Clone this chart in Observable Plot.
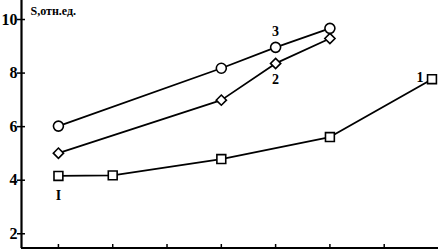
<!DOCTYPE html>
<html><head><meta charset="utf-8">
<script src="https://cdn.jsdelivr.net/npm/d3@7"></script>
<script src="https://cdn.jsdelivr.net/npm/@observablehq/plot@0.6"></script>
<style>
body{margin:0;background:#fff;}
svg{font-family:"Liberation Serif","DejaVu Serif",serif;}
</style></head>
<body><div id="chart"></div>
<script>
const yTicks = [2, 4, 6, 8, 10];
const xTicks = [1, 2, 3, 4, 5, 6, 7];
const x1 = [1, 2, 4, 6, 7.88];
const s1 = [4.16, 4.18, 4.79, 5.61, 7.77];
const x2 = [1, 4, 5, 6];
const s2 = [5.01, 6.99, 8.36, 9.29];
const x3 = [1, 4, 5, 6];
const s3 = [6.02, 8.18, 8.96, 9.67];
const yLabel = "S,отн.ед.";
const seriesLabels = [
  {x: 5, y: 9.55, text: "3"},
  {x: 5, y: 7.75, text: "2"},
  {x: 7.66, y: 7.82, text: "1"},
  {x: 1, y: 3.42, text: "I"}
];

const d1 = x1.map((x, i) => ({x, y: s1[i]}));
const d2 = x2.map((x, i) => ({x, y: s2[i]}));
const d3s = x3.map((x, i) => ({x, y: s3[i]}));
const xDom = [0.32, 8];
const yDom = [1.45, 10.71];

const chart = Plot.plot({
  width: 438, height: 250,
  marginLeft: 21, marginRight: 0, marginTop: 0, marginBottom: 2,
  x: {domain: xDom, axis: null},
  y: {domain: yDom, axis: null},
  marks: [
    Plot.axisY(yTicks, {anchor: "left", label: null, tickSize: 8, dx: 4, tickPadding: 0, fontSize: 16, fontWeight: "bold", strokeWidth: 1.5, stroke: "#000", fill: "#000"}),
    Plot.axisX(xTicks, {anchor: "bottom", label: null, tickSize: 5, dy: -4, tickFormat: () => "", strokeWidth: 1.5, stroke: "#000"}),
    Plot.ruleX([xDom[0]], {strokeWidth: 2.2, stroke: "#000"}),
    Plot.ruleY([yDom[0]], {strokeWidth: 2.2, stroke: "#000", dy: -0.5}),
    Plot.line(d1, {x: "x", y: "y", stroke: "#000", strokeWidth: 1.8}),
    Plot.line(d2, {x: "x", y: "y", stroke: "#000", strokeWidth: 1.8}),
    Plot.line(d3s, {x: "x", y: "y", stroke: "#000", strokeWidth: 1.8}),
    Plot.dot(d1, {x: "x", y: "y", symbol: "square", r: 5, fill: "#fff", stroke: "#000", strokeWidth: 1.6}),
    Plot.dot(d2, {x: "x", y: "y", symbol: "diamond2", r: 4.6, fill: "#fff", stroke: "#000", strokeWidth: 1.6}),
    Plot.dot(d3s, {x: "x", y: "y", symbol: "circle", r: 5, fill: "#fff", stroke: "#000", strokeWidth: 1.6}),
    Plot.text(seriesLabels, {x: "x", y: "y", text: "text", fontSize: 14, fontWeight: "bold", fill: "#000"}),
    Plot.text([yLabel], {x: xDom[0], y: 10.3, dx: 9, text: d => d, textAnchor: "start", fontSize: 12, fontWeight: "bold", fill: "#000"})
  ]
});
document.getElementById("chart").append(chart);
</script></body></html>
